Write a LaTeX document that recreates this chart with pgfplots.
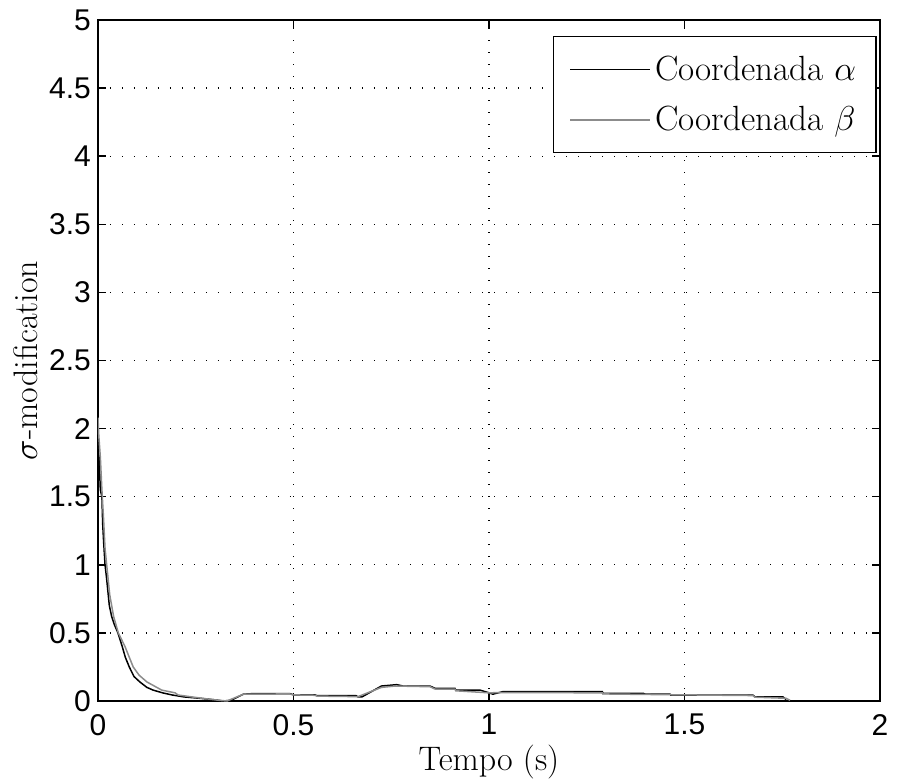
\documentclass[border=0pt]{standalone}
\usepackage{fontspec}
\usepackage{pgfplots}
\pgfplotsset{compat=1.18}
\newfontfamily\helv{Liberation Sans}
\begin{document}
\begin{tikzpicture}
\begin{axis}[
  name=ax,
  scale only axis,
  width=391pt, height=340.5pt,
  xmin=0, xmax=2, ymin=0, ymax=5,
  xtick={0,0.5,1,1.5,2},
  ytick={0,0.5,1,1.5,2,2.5,3,3.5,4,4.5,5},
  axis line style={line width=0.75pt},
  tick style={line width=0.75pt, black},
  major tick length=4pt,
  tick align=inside,
  grid=major,
  grid style={line width=0.6pt, black, dash pattern=on 0.6pt off 5.4pt},
  /pgf/number format/assume math mode=true,
  tick label style={font=\helv\fontsize{15}{18}\selectfont},
  xticklabel style={yshift=-3pt},
  yticklabel style={xshift=0pt},
  label style={font=\fontsize{17}{20}\selectfont},
  xlabel={Tempo (s)},
  ylabel={$\sigma$-modification},
  xlabel style={yshift=2pt},
  ylabel style={yshift=-1pt},
  legend cell align=left,
  legend style={at={(rel axis cs:0.996,0.9765)}, anchor=north east,
    font=\fontsize{17.5}{20}\selectfont, draw=black, line width=0.75pt,
    inner xsep=8pt, inner ysep=7.5pt, row sep=7.5pt},
  legend image code/.code={\draw[#1, line width=0.8pt] (0pt,0pt) -- (40pt,0pt);},
]
\addplot[black, line width=0.75pt] coordinates {
(0,1.85) (0.003,1.78) (0.006,1.55) (0.010,1.5) (0.012,1.3) (0.014,1.19)
(0.018,1.0) (0.022,0.9) (0.029,0.70) (0.035,0.62) (0.042,0.56) (0.051,0.50)
(0.062,0.40) (0.070,0.32) (0.080,0.25) (0.092,0.18) (0.107,0.14) (0.125,0.10)
(0.141,0.08) (0.165,0.06) (0.19,0.044) (0.22,0.03) (0.26,0.02) (0.30,0.008)
(0.32,0.0) (0.34,0.005) (0.372,0.05) (0.40,0.055) (0.49,0.055) (0.50,0.045)
(0.555,0.045) (0.56,0.039) (0.66,0.039) (0.665,0.03) (0.675,0.03) (0.725,0.11)
(0.764,0.12) (0.78,0.11) (0.849,0.11) (0.862,0.093) (0.913,0.093) (0.915,0.08)
(0.977,0.08) (1.0,0.06) (1.01,0.05) (1.036,0.069) (1.225,0.069) (1.29,0.069)
(1.291,0.056) (1.395,0.056) (1.40,0.05) (1.463,0.05) (1.465,0.044) (1.675,0.044)
(1.68,0.03) (1.752,0.03) (1.76,0.01)
};
\addlegendentry{Coordenada $\alpha$}
\addplot[black!45, line width=0.75pt] coordinates {
(0,2.08) (0.002,1.95) (0.006,1.79) (0.010,1.55) (0.014,1.35) (0.018,1.12)
(0.024,0.95) (0.030,0.78) (0.040,0.62) (0.052,0.50) (0.069,0.40) (0.090,0.25)
(0.105,0.19) (0.125,0.14) (0.163,0.08) (0.197,0.06) (0.205,0.044) (0.24,0.03)
(0.28,0.015) (0.31,0.005) (0.33,0.0) (0.372,0.05) (0.49,0.052) (0.50,0.045)
(0.555,0.042) (0.56,0.036) (0.665,0.032) (0.725,0.10) (0.76,0.11) (0.849,0.105)
(0.862,0.088) (0.913,0.088) (0.915,0.075) (1.0,0.06) (1.036,0.062) (1.29,0.06)
(1.291,0.052) (1.463,0.046) (1.675,0.04) (1.68,0.028) (1.76,0.02) (1.77,0.005)
};
\addlegendentry{Coordenada $\beta$}
\end{axis}
\path (ax.south west) ++(-49pt,-40.5pt) coordinate (bl);
\path (ax.north east) ++(10pt,10pt) coordinate (tr);
\pgfresetboundingbox
\path (bl) rectangle (tr);
\end{tikzpicture}
\end{document}
